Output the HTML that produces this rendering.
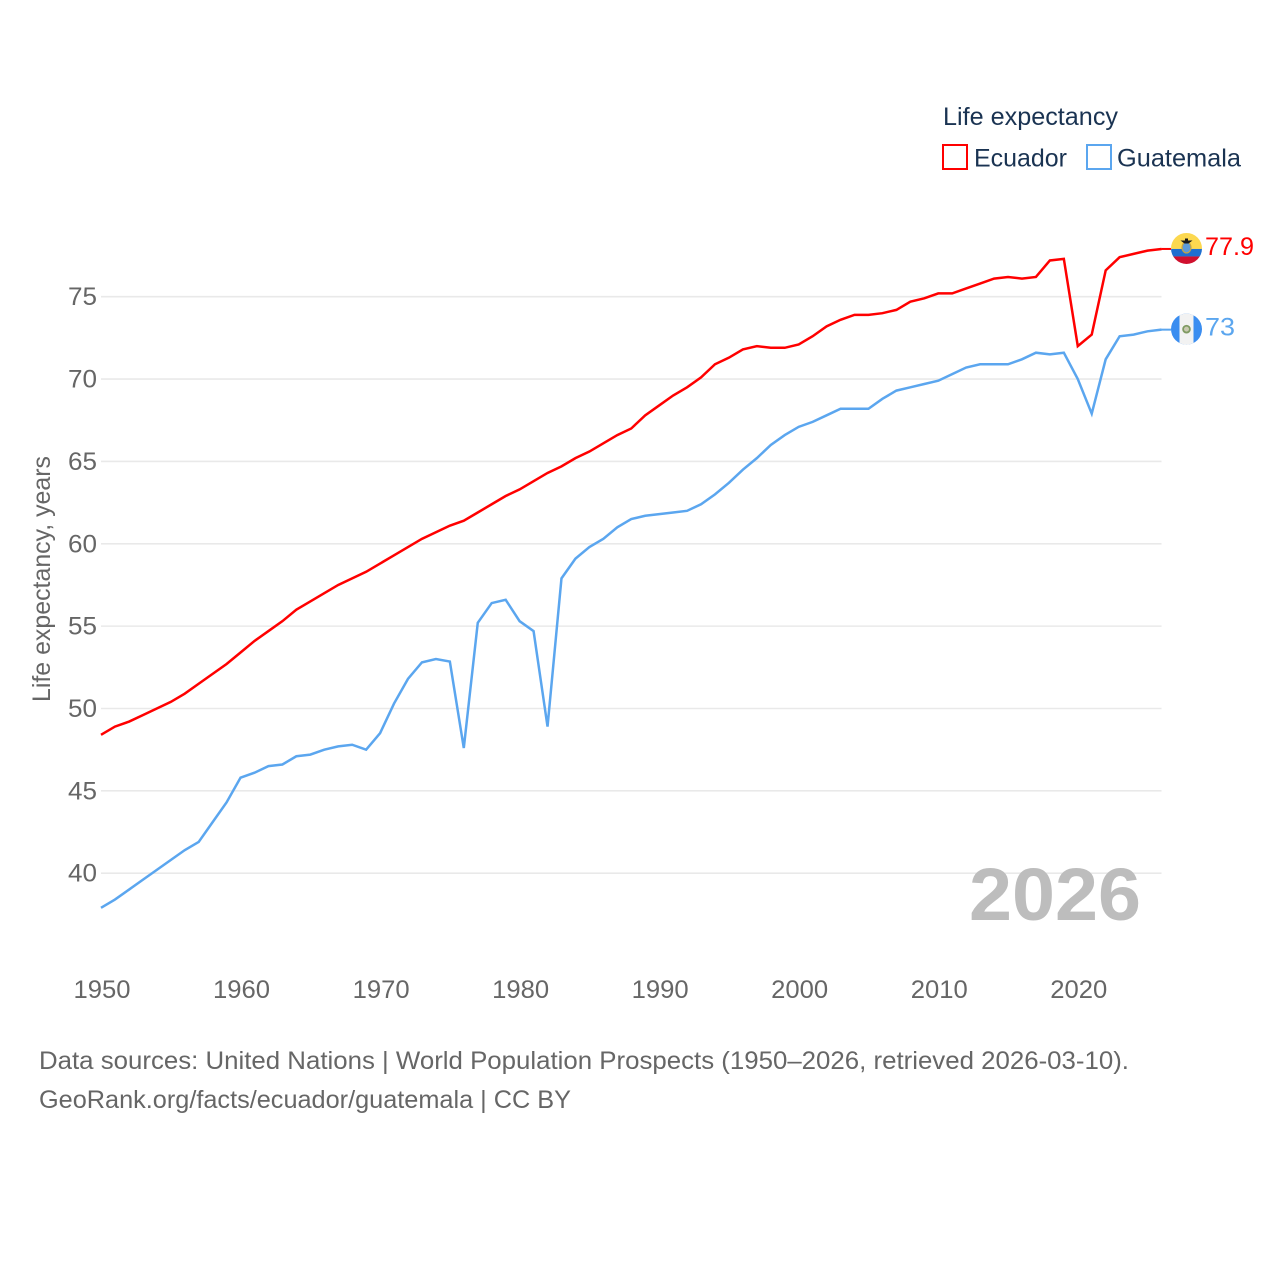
<!DOCTYPE html>
<html lang="en">
<head>
<meta charset="utf-8">
<title>Life expectancy: Ecuador and Guatemala</title>
<style>
html,body{margin:0;padding:0;background:#fff}
svg{display:block;font-family:"Liberation Sans",sans-serif}
</style>
</head>
<body>
<svg id="chart" xmlns="http://www.w3.org/2000/svg" width="1280" height="1280" viewBox="0 0 1280 1280">
  <defs>
    <clipPath id="flag-clip"><circle cx="0" cy="0" r="15.5"></circle></clipPath>
  </defs>
  <rect x="0" y="0" width="1280" height="1280" fill="#fff"></rect>
  <g id="grid"></g>
  <g id="y-ticks"></g>
  <g id="x-ticks"></g>
  <text transform="translate(50 579) rotate(-90)" text-anchor="middle" font-size="25" fill="#666" textLength="246" lengthAdjust="spacingAndGlyphs">Life expectancy, years</text>
  <text x="969" y="920" font-size="74" font-weight="700" fill="#bdbdbd" textLength="172" lengthAdjust="spacingAndGlyphs">2026</text>
  <g id="series"></g>
  <g id="end-markers"></g>
  <g>
    <text x="943" y="125" font-size="25" fill="#1a3352" textLength="175" lengthAdjust="spacingAndGlyphs">Life expectancy</text>
    <rect x="943" y="145" width="24" height="24" fill="#fff" stroke="#ff0000" stroke-width="2"></rect>
    <text x="974" y="166.5" font-size="25" fill="#1a3352" textLength="93" lengthAdjust="spacingAndGlyphs">Ecuador</text>
    <rect x="1087" y="145" width="24" height="24" fill="#fff" stroke="#5ba6ef" stroke-width="2"></rect>
    <text x="1117" y="166.5" font-size="25" fill="#1a3352" textLength="124" lengthAdjust="spacingAndGlyphs">Guatemala</text>
  </g>
  <text x="39" y="1069" font-size="25" fill="#666" textLength="1090" lengthAdjust="spacingAndGlyphs">Data sources: United Nations | World Population Prospects (1950–2026, retrieved 2026-03-10).</text>
  <text x="39" y="1108" font-size="25" fill="#666" textLength="532" lengthAdjust="spacingAndGlyphs">GeoRank.org/facts/ecuador/guatemala | CC BY</text>
</svg>
<script>
const startYear = 1950;
const yTickValues = [40, 45, 50, 55, 60, 65, 70, 75];
const xTickValues = [1950, 1960, 1970, 1980, 1990, 2000, 2010, 2020];
const ecuadorValues = [48.4, 48.9, 49.2, 49.6, 50.0, 50.4, 50.9, 51.5, 52.1, 52.7,
  53.4, 54.1, 54.7, 55.3, 56.0, 56.5, 57.0, 57.5, 57.9, 58.3,
  58.8, 59.3, 59.8, 60.3, 60.7, 61.1, 61.4, 61.9, 62.4, 62.9,
  63.3, 63.8, 64.3, 64.7, 65.2, 65.6, 66.1, 66.6, 67.0, 67.8,
  68.4, 69.0, 69.5, 70.1, 70.9, 71.3, 71.8, 72.0, 71.9, 71.9,
  72.1, 72.6, 73.2, 73.6, 73.9, 73.9, 74.0, 74.2, 74.7, 74.9,
  75.2, 75.2, 75.5, 75.8, 76.1, 76.2, 76.1, 76.2, 77.2, 77.3,
  72.0, 72.7, 76.6, 77.4, 77.6, 77.8, 77.9];
const guatemalaValues = [37.9, 38.4, 39.0, 39.6, 40.2, 40.8, 41.4, 41.9, 43.1, 44.3,
  45.8, 46.1, 46.5, 46.6, 47.1, 47.2, 47.5, 47.7, 47.8, 47.5,
  48.5, 50.3, 51.8, 52.8, 53.0, 52.85, 47.6, 55.2, 56.4, 56.6,
  55.3, 54.7, 48.9, 57.9, 59.1, 59.8, 60.3, 61.0, 61.5, 61.7,
  61.8, 61.9, 62.0, 62.4, 63.0, 63.7, 64.5, 65.2, 66.0, 66.6,
  67.1, 67.4, 67.8, 68.2, 68.2, 68.2, 68.8, 69.3, 69.5, 69.7,
  69.9, 70.3, 70.7, 70.9, 70.9, 70.9, 71.2, 71.6, 71.5, 71.6,
  70.0, 67.9, 71.2, 72.6, 72.7, 72.9, 73.0];
const ecuadorLabel = "77.9";
const guatemalaLabel = "73";

const SVG_NS = "http://www.w3.org/2000/svg";
const plotLeft = 101, plotRight = 1161.5;
const xScale = year => 101 + (year - 1950) * 13.954;
const yScale = value => 873.2 - (value - 40) * 16.471;

function make(tag, attrs, parent) {
  const el = document.createElementNS(SVG_NS, tag);
  for (const k in attrs) el.setAttribute(k, attrs[k]);
  parent.appendChild(el);
  return el;
}

const gridG = document.getElementById("grid");
const yG = document.getElementById("y-ticks");
yTickValues.forEach(v => {
  const line = make("line", {x1: plotLeft, x2: plotRight, y1: yScale(v), y2: yScale(v), stroke: "#e9e9e9", "stroke-width": 1.6}, gridG);
  
  
  const t = make("text", {x: 97, y: yScale(v) + 8.5, "text-anchor": "end", "font-size": 25, fill: "#666", textLength: 29, lengthAdjust: "spacingAndGlyphs"}, yG);
  t.textContent = v;
  
  
});

const xG = document.getElementById("x-ticks");
xTickValues.forEach(v => {
  const t = make("text", {x: xScale(v) + 1, y: 998, "text-anchor": "middle", "font-size": 25, fill: "#666", textLength: 57, lengthAdjust: "spacingAndGlyphs"}, xG);
  t.textContent = v;
  
  
});

const seriesG = document.getElementById("series");
function drawLine(values, color, name) {
  const pts = values.map((v, i) => xScale(startYear + i).toFixed(2) + "," + yScale(v).toFixed(2)).join(" ");
  const line = make("polyline", {points: pts, fill: "none", stroke: color, "stroke-width": 2.5, "stroke-linejoin": "miter"}, seriesG);
  
  
  const last = yScale(values[values.length - 1]);
  const stub = make("line", {x1: plotRight, x2: 1171, y1: last, y2: last, stroke: color, "stroke-width": 2}, seriesG);
  
  
}
drawLine(ecuadorValues, "#ff0000", "ecuador-line");
drawLine(guatemalaValues, "#5ba6ef", "guatemala-line");

const endG = document.getElementById("end-markers");
function drawEcuadorFlag(cy) {
  const g = make("g", {transform: "translate(1186.5 " + (cy - 0.5) + ")", "clip-path": "url(#flag-clip)"}, endG);
  
  
  make("rect", {x: -16, y: -16, width: 32, height: 16.5, fill: "#fcd84f"}, g);
  make("rect", {x: -16, y: 0.5, width: 32, height: 7.5, fill: "#1f6fd0"}, g);
  make("rect", {x: -16, y: 8, width: 32, height: 8, fill: "#d0102e"}, g);
  make("ellipse", {cx: 0, cy: -1, rx: 4.5, ry: 5.5, fill: "#5d9bd8", stroke: "#caa53c", "stroke-width": 1.2}, g);
  make("path", {d: "M-6 -8 L6 -8 L2 -5 L-2 -5 Z M-1.5 -10 h3 v3 h-3 Z", fill: "#1a1a1a"}, g);
}
function drawGuatemalaFlag(cy) {
  const g = make("g", {transform: "translate(1186.5 " + (cy - 0.5) + ")", "clip-path": "url(#flag-clip)"}, endG);
  
  
  make("rect", {x: -16, y: -16, width: 32, height: 32, fill: "#3a8df0"}, g);
  make("rect", {x: -7, y: -16, width: 14, height: 32, fill: "#f2f2f2"}, g);
  make("circle", {cx: 0, cy: 0, r: 3.4, fill: "#c9c9b0", stroke: "#7f9a62", "stroke-width": 1.8}, g);
}
function drawValue(text, cy, color, name, width) {
  const t = make("text", {x: 1205, y: cy + 7, "font-size": 25, fill: color, textLength: width, lengthAdjust: "spacingAndGlyphs"}, endG);
  t.textContent = text;
  
  
}
const ecuadorEnd = yScale(ecuadorValues[ecuadorValues.length - 1]);
const guatemalaEnd = yScale(guatemalaValues[guatemalaValues.length - 1]);
drawEcuadorFlag(ecuadorEnd);
drawGuatemalaFlag(guatemalaEnd);
drawValue(ecuadorLabel, ecuadorEnd - 1, "#ff0000", "ecuador-end-value", 49);
drawValue(guatemalaLabel, guatemalaEnd - 1, "#5ba6ef", "guatemala-end-value", 30);
</script>
</body>
</html>
